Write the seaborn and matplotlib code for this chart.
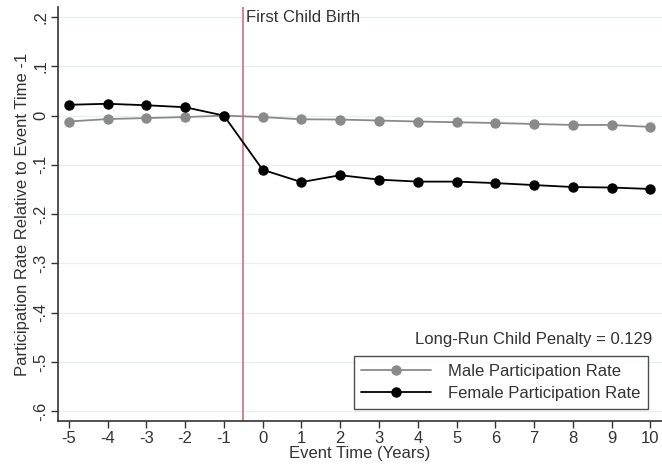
import matplotlib
matplotlib.use("Agg")
import matplotlib.pyplot as plt
import seaborn as sns
import pandas as pd

event_time = [-5, -4, -3, -2, -1, 0, 1, 2, 3, 4, 5, 6, 7, 8, 9, 10]
male = [-0.012, -0.007, -0.005, -0.003, 0.0, -0.003, -0.0075, -0.008, -0.010,
        -0.012, -0.0135, -0.015, -0.017, -0.019, -0.019, -0.023]
female = [0.022, 0.024, 0.021, 0.017, 0.0, -0.110, -0.135, -0.121, -0.130,
          -0.134, -0.134, -0.137, -0.141, -0.145, -0.146, -0.149]
series_names = ["Male Participation Rate", "Female Participation Rate"]
y_ticks = [0.2, 0.1, 0, -0.1, -0.2, -0.3, -0.4, -0.5, -0.6]
y_tick_labels = [".2", ".1", "0", "-.1", "-.2", "-.3", "-.4", "-.5", "-.6"]
penalty_text = "Long-Run Child Penalty = 0.129"
event_label = "First Child Birth"

df = pd.DataFrame({
    "t": event_time * 2,
    "v": male + female,
    "s": [series_names[0]] * len(male) + [series_names[1]] * len(female),
})

sns.set_style("white")
plt.rcParams['font.family'] = ['Liberation Sans', 'DejaVu Sans']
FS = 12

fig = plt.figure(figsize=(6.62, 4.67), dpi=100)
ax = fig.add_axes([0.0876, 0.0985, 0.9124, 0.886])

for y in y_ticks:
    ax.axhline(y, color="#e6f0f1", lw=0.9, zorder=0)

sns.lineplot(data=df, x="t", y="v", hue="s", palette=["#8a8a8a", "#000000"],
             marker="o", markersize=7.5, markeredgewidth=0, linewidth=1.3,
             ax=ax, legend=True, zorder=3)

ax.axvline(-0.5, color="#d0707c", lw=1.2, zorder=2)
ax.text(-0.44, 0.20, event_label, fontsize=FS, color="#333333", va="center", ha="left")
ax.text(10.05, -0.455, penalty_text, fontsize=FS, color="#333333", va="center", ha="right")

ax.set_xlim(-5.28, 10.3)
ax.set_ylim(-0.62, 0.22)
ax.set_xticks(event_time)
ax.set_xticklabels([str(t) for t in event_time], fontsize=FS, color="#333333")
ax.set_yticks(y_ticks)
ax.set_yticklabels(y_tick_labels, fontsize=FS, color="#333333", rotation=90, va="center")
ax.set_xlabel("Event Time (Years)", fontsize=FS, color="#333333", labelpad=0)
ax.set_ylabel("Participation Rate Relative to Event Time -1", fontsize=FS, color="#333333", labelpad=2)

for s in ["top", "right"]:
    ax.spines[s].set_visible(False)
for s in ["left", "bottom"]:
    ax.spines[s].set_color("#333333")
    ax.spines[s].set_linewidth(1.2)
ax.tick_params(axis="both", direction="out", length=5, width=1, color="#333333", pad=2,
               bottom=True, left=True)

leg = ax.legend(loc="lower right", bbox_to_anchor=(0.99, 0.01), fontsize=FS,
                frameon=True, fancybox=False, handlelength=4.2, borderpad=0.45,
                labelspacing=0.45, handletextpad=1.0)
leg.get_frame().set_edgecolor("#222222")
leg.get_frame().set_linewidth(1.0)
for t in leg.get_texts():
    t.set_color("#333333")

fig.savefig("out.png", dpi=100)
